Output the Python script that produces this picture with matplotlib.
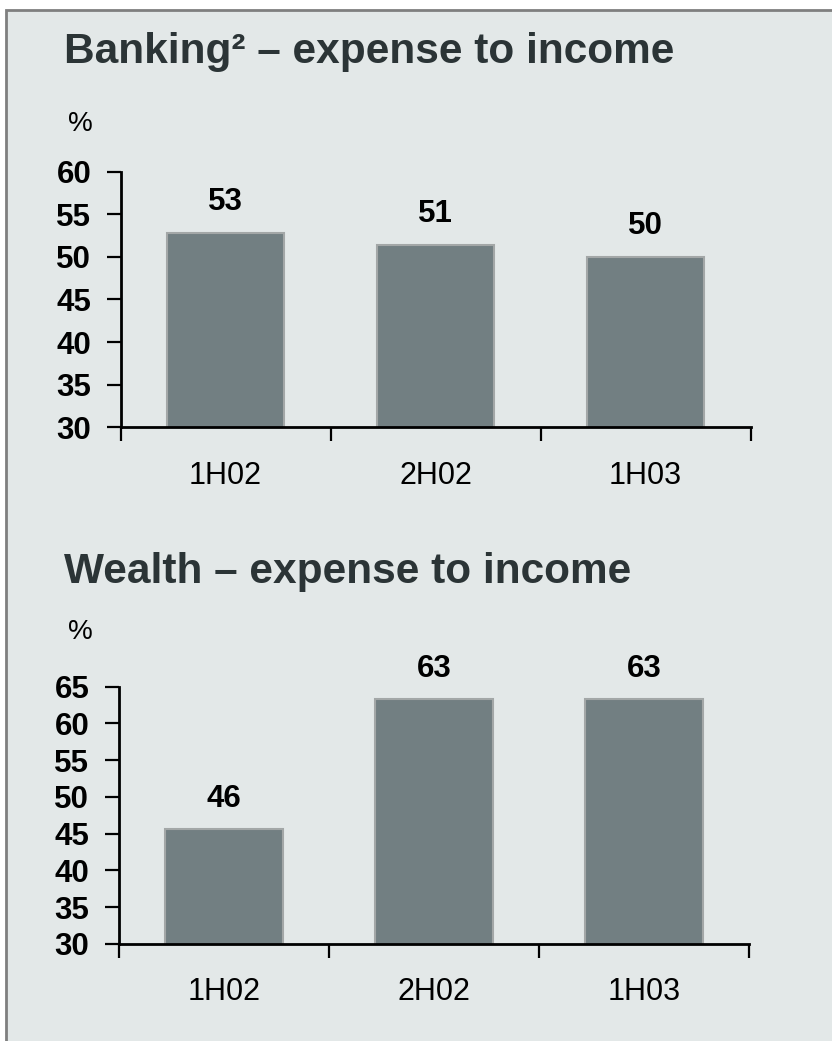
import matplotlib.pyplot as plt
from matplotlib.patches import Rectangle

plt.rcParams['font.family'] = ['Liberation Sans', 'DejaVu Sans']

periods = ["1H02", "2H02", "1H03"]
banking_ratio = [52.8, 51.4, 50.0]
wealth_ratio = [45.6, 63.3, 63.3]

banking_ticks = [30, 35, 40, 45, 50, 55, 60]
wealth_ticks = [30, 35, 40, 45, 50, 55, 60, 65]

bg = "#e3e8e8"
bar_color = "#727f82"
title_color = "#2b3436"

fig = plt.figure(figsize=(8.32, 10.41), dpi=100, facecolor="white")

# panel background with grey frame on top and left, kept behind the axes
fig.patches.append(Rectangle((6 / 832, -0.05), 1.1, 1.05 - 10 / 1041,
                             transform=fig.transFigure, facecolor=bg,
                             edgecolor="#7f7f7f", linewidth=2, zorder=-1))


def bar_panel(rect, values, ticks, title, title_y, pct_y):
    ax = fig.add_axes(rect)
    ax.set_facecolor("none")
    x = range(len(values))
    ax.bar(x, values, width=0.56, color=bar_color, edgecolor="#a3a7a7",
           linewidth=1.5, zorder=2)
    for xi, v in zip(x, values):
        ax.annotate(f"{v:.0f}", (xi, v), xytext=(0, 22), textcoords="offset points",
                    ha="center", va="center", fontsize=22.5, fontweight="bold")

    ax.set_xlim(-0.5, len(values) - 0.5)
    ax.set_ylim(ticks[0], ticks[-1])
    ax.set_yticks(ticks)
    ax.set_yticklabels([str(t) for t in ticks], fontsize=22.5, fontweight="bold")
    ax.tick_params(axis="y", direction="out", length=10, width=1.6, pad=11)

    # separators between periods as ticks, period names centred under bars
    ax.set_xticks([i - 0.5 for i in range(len(values) + 1)])
    ax.set_xticklabels([])
    ax.tick_params(axis="x", which="major", direction="out", length=10, width=1.6)
    ax.set_xticks(list(x), minor=True)
    ax.set_xticklabels(periods, minor=True, fontsize=22)
    ax.tick_params(axis="x", which="minor", length=0, pad=24)

    for side in ("top", "right"):
        ax.spines[side].set_visible(False)
    for side in ("left", "bottom"):
        ax.spines[side].set_linewidth(2)

    fig.text(64 / 832, title_y, title, fontsize=30.5, fontweight="bold",
             color=title_color, va="baseline", ha="left")
    fig.text(68 / 832, pct_y, "%", fontsize=20, va="center", ha="left")
    return ax


bar_panel([120.5 / 832, 0.5895, 630 / 832, 0.2456], banking_ratio, banking_ticks,
          "Banking² – expense to income", 1 - 63 / 1041, 1 - 124 / 1041)
bar_panel([118.5 / 832, 0.0932, 631 / 832, 0.2472], wealth_ratio, wealth_ticks,
          "Wealth – expense to income", 1 - 583 / 1041, 1 - 632 / 1041)

fig.savefig("out.png", dpi=100, facecolor="white")
